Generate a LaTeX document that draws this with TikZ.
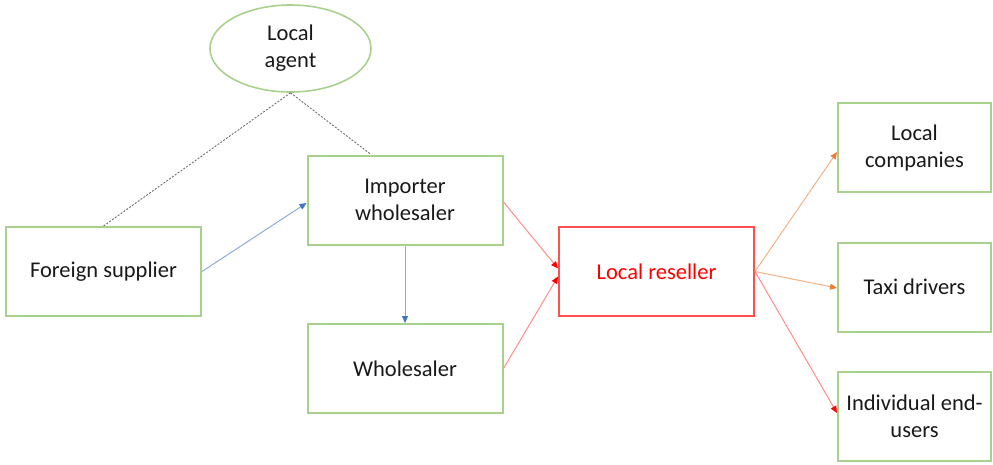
\documentclass[tikz,border=0pt]{standalone}
\usepackage{fontspec}
\setmainfont{Carlito}
\usetikzlibrary{arrows.meta,shapes.geometric}

\definecolor{boxgreen}{RGB}{169,209,142}
\definecolor{boxred}{RGB}{255,80,80}
\definecolor{txtred}{RGB}{255,0,0}
\definecolor{linkblue}{RGB}{143,170,220}
\definecolor{headblue}{RGB}{68,114,196}
\definecolor{linkred}{RGB}{255,140,140}
\definecolor{headred}{RGB}{255,0,0}
\definecolor{linkorange}{RGB}{244,177,131}
\definecolor{headorange}{RGB}{237,125,49}
\definecolor{dotgrey}{RGB}{110,110,110}
\definecolor{txt}{RGB}{25,25,25}

\tikzset{
  actor/.style={draw=boxgreen, line width=2pt, rectangle, minimum width=195pt,
    minimum height=89pt, align=center, font=\fontsize{22.5}{27}\selectfont, text=txt, inner sep=2pt},
  smallactor/.style={actor, minimum width=153pt},
  agent/.style={draw=boxgreen, line width=1.6pt, ellipse, minimum width=161pt,
    minimum height=87pt, align=center, font=\fontsize{22.5}{27}\selectfont, text=txt, inner sep=0pt},
  hub/.style={actor, draw=boxred, text=txtred},
  bluelink/.style={draw=linkblue, line width=1pt, arrows={-{Triangle[length=7pt,width=6pt,color=headblue]}}},
  redlink/.style={draw=linkred, line width=1pt, arrows={-{Triangle[length=7pt,width=6pt,color=headred]}}},
  orangelink/.style={draw=linkorange, line width=1pt, arrows={-{Triangle[length=7pt,width=6pt,color=headorange]}}},
  agentlink/.style={draw=dotgrey, line width=0.9pt, dash pattern=on 2pt off 1.5pt},
}

\begin{document}
\begin{tikzpicture}[x=1pt,y=-1pt]
  \useasboundingbox (0,0) rectangle (993,464);

  % actors of the distribution channel
  \node[agent] (la) at (290.5,48.5) {Local\\agent};
  \node[actor] (fs) at (103.5,271.5) {Foreign supplier};
  \node[actor] (iw) at (405,200) {Importer\\wholesaler};
  \node[actor] (wh) at (405,368.5) {Wholesaler};
  \node[hub]   (rs) at (656.5,271.5) {Local reseller};
  \node[smallactor] (lc) at (914.5,147.5) {Local\\companies};
  \node[smallactor] (td) at (914.5,287) {Taxi drivers};
  \node[smallactor] (ie) at (914.5,416) {Individual end-\\users};

  % agent relations
  \draw[agentlink] (la.south) -- (fs.north);
  \draw[agentlink] (la.south) -- ([xshift=-34pt]iw.north);

  % flow of goods
  \draw[bluelink] (fs.east) -- ([yshift=-3pt]iw.west);
  \draw[bluelink] (iw.south) -- (wh.north);
  \draw[redlink] ([yshift=-2pt]iw.east) -- ([yshift=3pt]rs.west);
  \draw[redlink] (wh.east) -- ([yshift=-5pt]rs.west);
  \draw[orangelink] (rs.east) -- ([yshift=-4.5pt]lc.west);
  \draw[orangelink] (rs.east) -- ([yshift=-1pt]td.west);
  \draw[redlink] (rs.east) -- ([yshift=3pt]ie.west);
\end{tikzpicture}
\end{document}
